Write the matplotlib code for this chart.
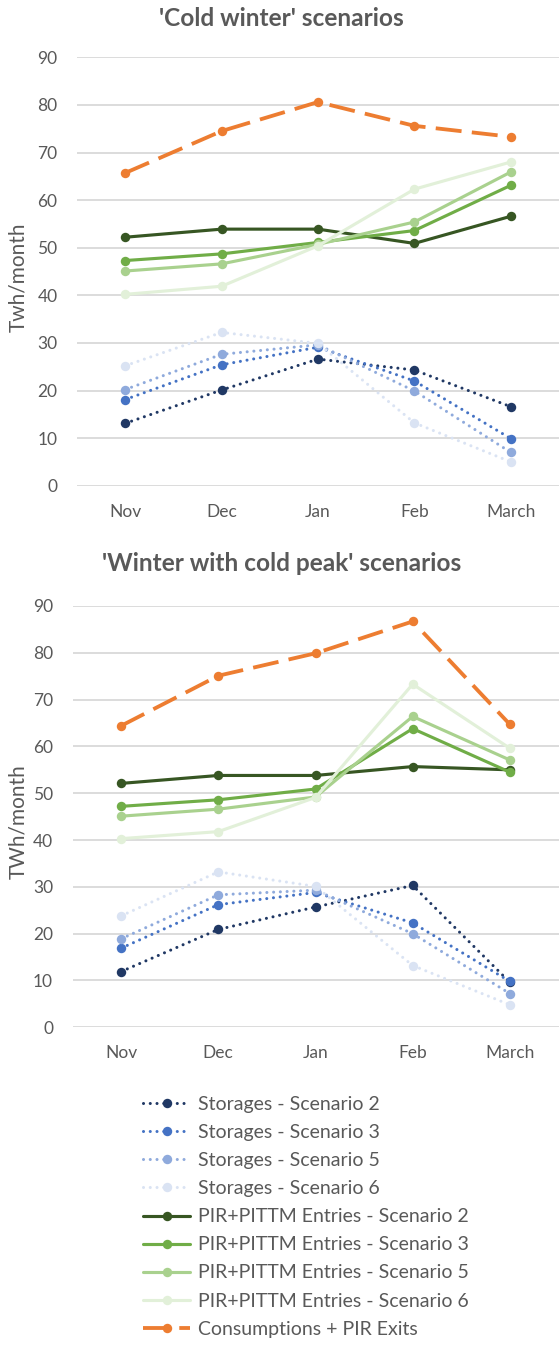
import matplotlib
matplotlib.use("Agg")
import matplotlib.pyplot as plt

# ── data ────────────────────────────────────────────────────────────────────
months = ["Nov", "Dec", "Jan", "Feb", "March"]

# 'Cold winter'
cw_storage_s2 = [13.1, 20.1, 26.6, 24.3, 16.6]
cw_storage_s3 = [18.1, 25.4, 29.1, 22.0, 9.9]
cw_storage_s5 = [20.2, 27.6, 29.6, 19.9, 7.0]
cw_storage_s6 = [25.2, 32.2, 29.9, 13.2, 5.0]
cw_entries_s2 = [52.2, 53.9, 53.9, 50.9, 56.6]
cw_entries_s3 = [47.3, 48.7, 51.1, 53.6, 63.1]
cw_entries_s5 = [45.1, 46.6, 50.7, 55.4, 65.9]
cw_entries_s6 = [40.2, 41.9, 50.4, 62.3, 68.0]
cw_consumption = [65.7, 74.5, 80.6, 75.6, 73.3]

# 'Winter with cold peak'
wp_storage_s2 = [11.9, 20.9, 25.7, 30.3, 9.6]
wp_storage_s3 = [16.9, 26.2, 28.8, 22.3, 9.8]
wp_storage_s5 = [18.9, 28.3, 29.3, 20.0, 7.2]
wp_storage_s6 = [23.8, 33.2, 30.1, 13.2, 4.8]
wp_entries_s2 = [52.1, 53.8, 53.8, 55.7, 55.0]
wp_entries_s3 = [47.2, 48.6, 50.9, 63.8, 54.5]
wp_entries_s5 = [45.1, 46.6, 49.2, 66.4, 57.1]
wp_entries_s6 = [40.3, 41.8, 49.1, 73.3, 59.6]
wp_consumption = [64.4, 75.1, 79.9, 86.7, 64.7]

labels = [
    "Storages - Scenario 2",
    "Storages - Scenario 3",
    "Storages - Scenario 5",
    "Storages - Scenario 6",
    "PIR+PITTM Entries - Scenario 2",
    "PIR+PITTM Entries - Scenario 3",
    "PIR+PITTM Entries - Scenario 5",
    "PIR+PITTM Entries - Scenario 6",
    "Consumptions + PIR Exits",
]

# ── style ───────────────────────────────────────────────────────────────────
plt.rcParams["font.family"] = ["Lato", "DejaVu Sans"]
TXT = "#595959"
GRID = "#D9D9D9"
colors = ["#203864", "#4472C4", "#8FAADC", "#DAE3F3",
          "#375623", "#70AD47", "#A9D18E", "#E2F0D9", "#ED7D31"]
DOT = (0, (0.01, 2.2))
DASH = (0, (6.8, 2.7))
styles = [DOT] * 4 + ["-"] * 4 + [DASH]
widths = [2.2] * 4 + [2.25] * 4 + [2.75]
caps = ["round"] * 4 + ["round"] * 4 + ["butt"]

W, H = 559, 1346
fig = plt.figure(figsize=(W / 100, H / 100), dpi=100)
fig.patch.set_facecolor("white")


def px_axes(left, right, top, bottom):
    return fig.add_axes([left / W, 1 - bottom / H, (right - left) / W, (bottom - top) / H])


def panel(ax, series):
    x = list(range(len(months)))
    handles = []
    for vals, c, ls, lw, cap, lab in zip(series, colors, styles, widths, caps, labels):
        h, = ax.plot(x, vals, color=c, linestyle=ls, lw=lw, marker="o", ms=6.8,
                     markeredgewidth=0, dash_capstyle=cap, solid_capstyle="round",
                     label=lab, zorder=3, clip_on=False)
        handles.append(h)
    ax.set_xlim(-0.5, len(months) - 0.5)
    ax.set_ylim(0, 90)
    ax.set_yticks(range(0, 91, 10))
    ax.set_xticks(x)
    ax.set_xticklabels(months)
    ax.grid(axis="y", color=GRID, lw=1.3, zorder=0)
    ax.set_axisbelow(True)
    for s in ax.spines.values():
        s.set_visible(False)
    ax.tick_params(length=0, labelsize=12.5, colors=TXT)
    ax.tick_params(axis="y", pad=14)
    ax.tick_params(axis="x", pad=13)
    return handles


# ── top panel ───────────────────────────────────────────────────────────────
ax1 = px_axes(77, 559, 57.3, 485.7)
handles = panel(ax1, [cw_storage_s2, cw_storage_s3, cw_storage_s5, cw_storage_s6,
                      cw_entries_s2, cw_entries_s3, cw_entries_s5, cw_entries_s6,
                      cw_consumption])
fig.text(281 / W, 1 - 18 / H, "'Cold winter' scenarios", ha="center", va="center",
         fontsize=17.6, fontweight="bold", color=TXT)
fig.text(18 / W, 1 - 277 / H, "Twh/month", ha="center", va="center",
         rotation=90, fontsize=15, color=TXT)

# ── bottom panel ────────────────────────────────────────────────────────────
ax2 = px_axes(72.5, 558.5, 606, 1027.3)
panel(ax2, [wp_storage_s2, wp_storage_s3, wp_storage_s5, wp_storage_s6,
            wp_entries_s2, wp_entries_s3, wp_entries_s5, wp_entries_s6,
            wp_consumption])
fig.text(282 / W, 1 - 563 / H, "'Winter with cold peak' scenarios", ha="center",
         va="center", fontsize=17.6, fontweight="bold", color=TXT)
fig.text(18 / W, 1 - 822 / H, "TWh/month", ha="center", va="center",
         rotation=90, fontsize=15, color=TXT)

# ── legend ──────────────────────────────────────────────────────────────────
leg = fig.legend(handles=handles, loc="upper left",
                 bbox_to_anchor=(143 / W, 1 - 1096 / H),
                 frameon=False, fontsize=14, handlelength=2.42,
                 handletextpad=0.41, labelspacing=0.57, numpoints=1,
                 borderpad=0, borderaxespad=0)
for t in leg.get_texts():
    t.set_color(TXT)

fig.savefig("out.png", dpi=100, facecolor="white")
